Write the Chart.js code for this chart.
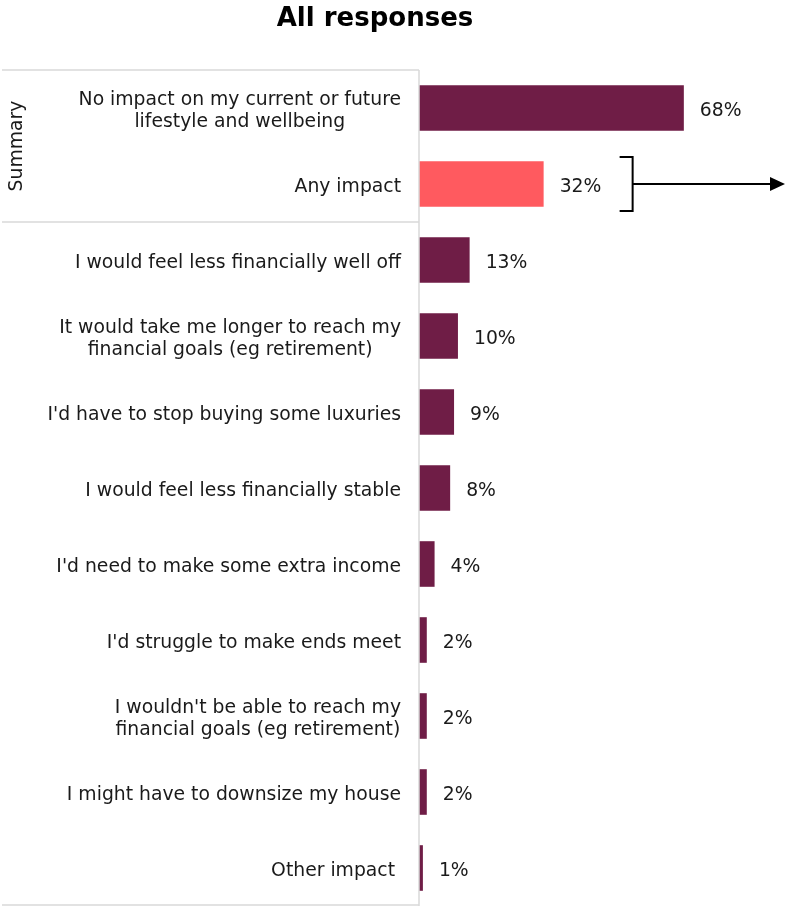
<!DOCTYPE html>
<html>
<head>
<meta charset="utf-8">
<script src="https://cdn.jsdelivr.net/npm/chart.js@4"></script>
<style>
  body { margin: 0; background: #fff; }
  #wrap { width: 789px; height: 906px; }
</style>
</head>
<body>
<div id="wrap"><canvas id="impactChart" width="789" height="906"></canvas></div>
<script>
// Responses - categories and shares (%)
const categories = [
    ['No impact on my current or future', 'lifestyle and wellbeing'],
    ['Any impact'],
    ['I would feel less financially well off'],
    ['It would take me longer to reach my', 'financial goals (eg retirement)'],
    ["I'd have to stop buying some luxuries"],
    ['I would feel less financially stable'],
    ["I'd need to make some extra income"],
    ["I'd struggle to make ends meet"],
    ["I wouldn't be able to reach my", 'financial goals (eg retirement)'],
    ['I might have to downsize my house'],
    ['Other impact ']
];
const shares = [68, 32, 13, 10, 9, 8, 4, 2, 2, 2, 1];
const groupLabel = 'Summary';
const summaryCount = 2;
const titleText = 'All responses';

const maroon = '#6f1d46';
const coral = '#ff5a5f';
const lineGrey = '#d9d9d9';
const font = '"DejaVu Sans", Verdana, sans-serif';
const labelSize = 18.8;

// Title, labels, group box, value labels and the bracket arrow
const decorations = {
    id: 'decorations',
    afterDatasetsDraw(chart) {
        const ctx = chart.ctx;
        const area = chart.chartArea;
        const x = chart.scales.x;
        const y = chart.scales.y;
        const band = y.getPixelForValue(1) - y.getPixelForValue(0);
        const dy = 3; // nudge text down to sit visually centred on bars

        ctx.save();
        // title
        ctx.fillStyle = '#000';
        ctx.font = 'bold 26px ' + font;
        ctx.textAlign = 'center';
        ctx.textBaseline = 'middle';
        ctx.fillText(titleText, 375, 19);

        // box lines
        ctx.strokeStyle = lineGrey;
        ctx.lineWidth = 1.5;
        ctx.beginPath();
        ctx.moveTo(2, area.top);
        ctx.lineTo(area.left, area.top);
        ctx.moveTo(2, area.top + band * summaryCount);
        ctx.lineTo(area.left, area.top + band * summaryCount);
        ctx.moveTo(2, area.bottom - 1);
        ctx.lineTo(area.left, area.bottom - 1);
        ctx.moveTo(area.left, area.top);
        ctx.lineTo(area.left, area.bottom);
        ctx.stroke();

        // category labels, lines centred on each other, block right-aligned
        ctx.fillStyle = '#1a1a1a';
        ctx.font = labelSize + 'px ' + font;
        const lh = 22;
        categories.forEach((lines, i) => {
            const cy = y.getPixelForValue(i) + dy;
            const w = Math.max(...lines.map(l => ctx.measureText(l).width));
            const cx = area.left - 18 - w / 2;
            lines.forEach((l, j) => {
                ctx.fillText(l, cx, cy + (j - (lines.length - 1) / 2) * lh);
            });
        });

        // value labels
        ctx.textAlign = 'left';
        shares.forEach((v, i) => {
            ctx.fillText(v + '%', x.getPixelForValue(v) + 16, y.getPixelForValue(i) + dy);
        });

        // group label
        ctx.save();
        ctx.translate(17, area.top + band * summaryCount / 2);
        ctx.rotate(-Math.PI / 2);
        ctx.textAlign = 'center';
        ctx.fillText(groupLabel, 0, 0);
        ctx.restore();

        // bracket + arrow next to "Any impact"
        const by = y.getPixelForValue(1);
        const bx = x.getPixelForValue(shares[1]) + 89;
        ctx.strokeStyle = '#000';
        ctx.fillStyle = '#000';
        ctx.lineWidth = 2;
        ctx.beginPath();
        ctx.moveTo(bx - 13, by - 27);
        ctx.lineTo(bx, by - 27);
        ctx.lineTo(bx, by + 27);
        ctx.lineTo(bx - 13, by + 27);
        ctx.moveTo(bx, by);
        ctx.lineTo(area.right - 18, by);
        ctx.stroke();
        ctx.beginPath();
        ctx.moveTo(area.right - 4, by);
        ctx.lineTo(area.right - 19, by - 7);
        ctx.lineTo(area.right - 19, by + 7);
        ctx.closePath();
        ctx.fill();
        ctx.restore();
    }
};

new Chart(document.getElementById('impactChart'), {
    type: 'bar',
    data: {
        labels: categories,
        datasets: [{
            data: shares,
            backgroundColor: shares.map((v, i) => i === 1 ? coral : maroon),
            categoryPercentage: 1,
            barPercentage: 0.6
        }]
    },
    options: {
        indexAxis: 'y',
        responsive: false,
        animation: false,
        layout: { padding: { top: 70, left: 0, right: 0, bottom: 0 } },
        plugins: {
            legend: { display: false },
            tooltip: { enabled: false },
            title: { display: false }
        },
        scales: {
            x: {
                display: false,
                min: 0,
                max: 95
            },
            y: {
                grid: { display: false },
                border: { display: false },
                ticks: { display: false },
                afterFit(scale) { scale.width = 419; }
            }
        }
    },
    plugins: [decorations]
});
</script>
</body>
</html>
